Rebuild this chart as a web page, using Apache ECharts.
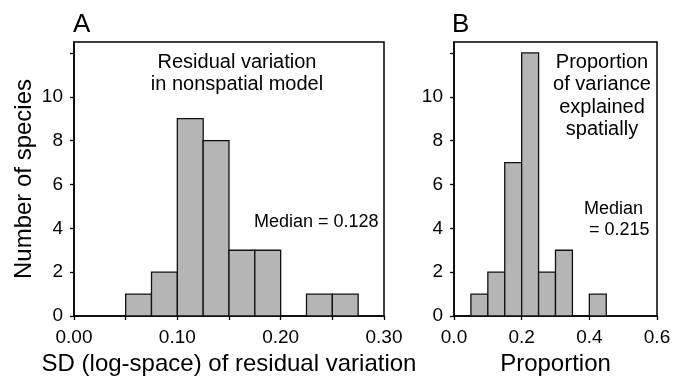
<!DOCTYPE html>
<html>
<head>
<meta charset="utf-8">
<script src="https://cdn.jsdelivr.net/npm/echarts@6/dist/echarts.min.js"></script>
<style>
  html, body { margin: 0; padding: 0; background: #fff; }
  #chart { width: 683px; height: 382px; }
</style>
</head>
<body>
<div id="chart"></div>
<script>
// panel A: SD of residual variation, bins of 0.025
const binStartA = [0.05, 0.075, 0.1, 0.125, 0.15, 0.175, 0.2, 0.225, 0.25]
const countsA = [1, 2, 9, 8, 3, 3, 0, 1, 1]
const binWidthA = 0.025
// panel B: proportion explained spatially, bins of 0.05
const binStartB = [0.05, 0.1, 0.15, 0.2, 0.25, 0.3, 0.35, 0.4]
const countsB = [1, 2, 7, 12, 2, 3, 0, 1]
const binWidthB = 0.05

const yTicks = [0, 2, 4, 6, 8, 10, 12]
const yLabels = [0, 2, 4, 6, 8, 10]
const xTicksA = [0, 0.05, 0.1, 0.15, 0.2, 0.25, 0.3]
const xLabelsA = [0, 0.1, 0.2, 0.3]
const xTicksB = [0, 0.2, 0.4, 0.6]

const FONT = '"Liberation Sans", Arial, sans-serif'
const chart = echarts.init(document.getElementById('chart'))

function bins(starts, counts, w) {
  return starts.map((s, i) => [s, s + w, counts[i]])
}

function renderBar(params, api) {
  const p0 = api.coord([api.value(0), api.value(2)])
  const p1 = api.coord([api.value(1), 0])
  if (api.value(2) <= 0) return null
  return {
    type: 'rect',
    shape: { x: p0[0], y: p0[1], width: p1[0] - p0[0], height: p1[1] - p0[1] },
    style: { fill: '#b5b5b5', stroke: '#111', lineWidth: 1.3 },
  }
}

function xAxis(idx, max, ticks, labels, digits) {
  return {
    type: 'value',
    gridIndex: idx,
    min: 0,
    max: max,
    axisLine: { lineStyle: { color: '#000', width: 1.5 } },
    axisTick: { length: 4, customValues: ticks, lineStyle: { color: '#000', width: 1.3 } },
    axisLabel: {
      customValues: labels,
      formatter: v => v.toFixed(digits),
      color: '#000', fontSize: 19, fontFamily: FONT, margin: 12,
    },
    splitLine: { show: false },
  }
}

function yAxis(idx) {
  return {
    type: 'value',
    gridIndex: idx,
    min: 0,
    max: 12.5,
    axisLine: { show: true, lineStyle: { color: '#000', width: 1.5 } },
    axisTick: { show: true, length: 4, customValues: yTicks, lineStyle: { color: '#000', width: 1.3 } },
    axisLabel: {
      customValues: yLabels,
      color: '#000', fontSize: 19, fontFamily: FONT, margin: 11,
    },
    splitLine: { show: false },
  }
}

// text placed by anchor point (x, y = top of first line)
const txt = (x, y, text, size, align, lh) => ({
  type: 'text', x: x, y: y,
  style: { text: text, fill: '#000', fontSize: size, fontFamily: FONT, align: align || 'left', verticalAlign: 'top', lineHeight: lh || size + 3 },
})

const titleStyle = { color: '#000', fontSize: 24, fontFamily: FONT }

const option = {
  animation: false,
  grid: [
    { left: 74, right: 299, top: 42, bottom: 66, show: true, borderColor: '#000', borderWidth: 1.5, outerBoundsMode: 'none', containLabel: false },
    { left: 454, right: 26, top: 42, bottom: 66, show: true, borderColor: '#000', borderWidth: 1.5, outerBoundsMode: 'none', containLabel: false },
  ],
  xAxis: [
    Object.assign(xAxis(0, 0.3, xTicksA, xLabelsA, 2), {
      name: 'SD (log-space) of residual variation', nameLocation: 'middle', nameGap: 35,
      nameTextStyle: titleStyle,
    }),
    Object.assign(xAxis(1, 0.6, xTicksB, xTicksB, 1), {
      name: 'Proportion', nameLocation: 'middle', nameGap: 35,
      nameTextStyle: titleStyle,
    }),
  ],
  yAxis: [
    Object.assign(yAxis(0), {
      name: 'Number of species', nameLocation: 'middle', nameGap: 38,
      nameTextStyle: titleStyle,
    }),
    yAxis(1),
  ],
  series: [
    { type: 'custom', xAxisIndex: 0, yAxisIndex: 0, renderItem: renderBar, data: bins(binStartA, countsA, binWidthA) },
    { type: 'custom', xAxisIndex: 1, yAxisIndex: 1, renderItem: renderBar, data: bins(binStartB, countsB, binWidthB) },
  ],
  graphic: [
    txt(73, 10, 'A', 26),
    txt(452, 10, 'B', 26),
    txt(237, 51, 'Residual variation\nin nonspatial model', 20, 'center', 22),
    txt(254, 212, 'Median = 0.128', 18),
    txt(602, 51, 'Proportion\nof variance\nexplained\nspatially', 20, 'center', 22.5),
    txt(584, 199, 'Median\n = 0.215', 18, 'left', 21),
  ],
}
chart.setOption(option)
</script>
</body>
</html>
